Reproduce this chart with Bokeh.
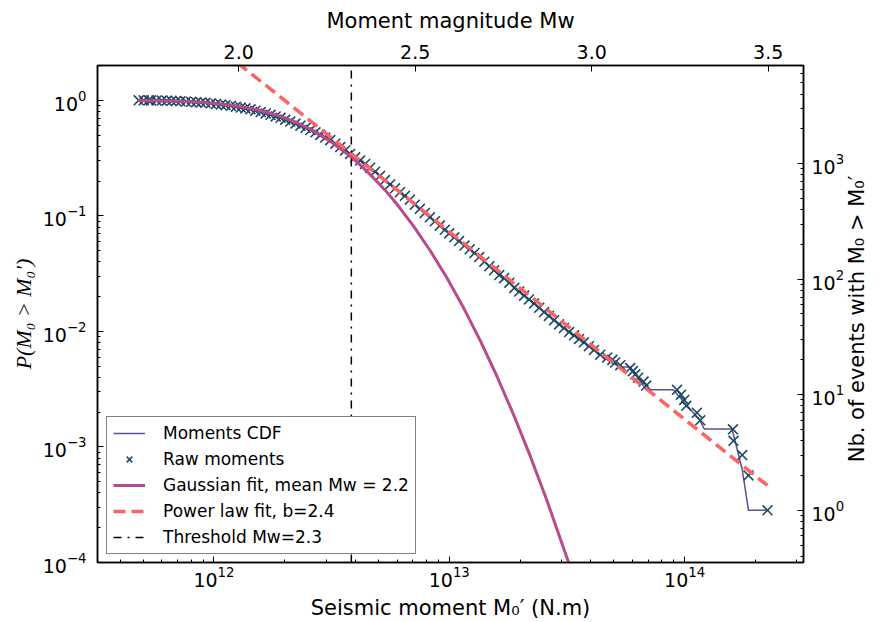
import math
from bokeh.plotting import figure
from bokeh.models import (Range1d, LinearScale, LogScale, LinearAxis, LogAxis, FixedTicker,
                          PrintfTickFormatter, Legend, LegendItem)
from bokeh.embed import file_html
from bokeh.resources import INLINE

# ---------------- data ----------------
n_events = 3530                      # P = 1/n_events for the single largest event

# dense part of the raw moments (seismic moment N.m, exceedance probability)
band_moment = [
    4.79e11, 5.03e11, 5.28e11, 5.4e11, 5.7e11, 6.0e11, 6.3e11, 6.6e11, 6.9e11, 7.2e11, 7.6e11, 8.0e11,
    8.4e11, 8.8e11, 9.2e11, 9.7e11,
    1.02e12, 1.07e12, 1.12e12, 1.18e12, 1.24e12, 1.30e12, 1.36e12, 1.43e12, 1.50e12, 1.58e12, 1.66e12,
    1.74e12, 1.83e12, 1.92e12,
    2.01e12, 2.11e12, 2.22e12, 2.33e12, 2.45e12, 2.57e12, 2.70e12, 2.83e12, 2.97e12, 3.12e12, 3.28e12,
    3.44e12, 3.61e12, 3.79e12, 3.98e12,
    4.18e12, 4.39e12, 4.61e12, 4.84e12, 5.08e12, 5.33e12, 5.60e12, 5.88e12, 6.17e12, 6.48e12, 6.80e12,
    7.14e12, 7.50e12, 7.87e12, 8.27e12, 8.68e12, 9.11e12, 9.57e12,
    1.00e13, 1.05e13, 1.10e13, 1.16e13, 1.22e13, 1.28e13, 1.34e13, 1.41e13, 1.48e13, 1.55e13, 1.63e13,
    1.71e13, 1.80e13, 1.89e13, 1.98e13,
    2.08e13, 2.18e13, 2.29e13, 2.41e13, 2.53e13, 2.65e13, 2.79e13, 2.93e13, 3.07e13, 3.23e13, 3.39e13,
    3.56e13, 3.73e13, 3.92e13, 4.12e13, 4.38e13]
band_prob = [
    1.0, 0.9997, 0.9994, 0.998, 0.997, 0.994, 0.992, 0.989, 0.984, 0.980, 0.974, 0.970,
    0.962, 0.955, 0.950, 0.941,
    0.929, 0.918, 0.907, 0.895, 0.879, 0.865, 0.851, 0.835, 0.813, 0.791, 0.769,
    0.748, 0.725, 0.705,
    0.680, 0.655, 0.629, 0.603, 0.578, 0.553, 0.528, 0.502, 0.476, 0.452, 0.421,
    0.394, 0.368, 0.343, 0.321,
    0.301, 0.281, 0.261, 0.241, 0.222, 0.204, 0.187, 0.173, 0.160, 0.149, 0.138,
    0.125, 0.115, 0.106, 0.0972, 0.0896, 0.0823, 0.0757,
    0.0705, 0.0652, 0.0605, 0.0553, 0.0513, 0.0477, 0.0440, 0.0401, 0.0367, 0.0338, 0.0307,
    0.0289, 0.0264, 0.0238, 0.0221,
    0.0204, 0.0189, 0.0174, 0.0160, 0.0147, 0.0136, 0.0125, 0.0115, 0.0107, 0.00986, 0.00924,
    0.00861, 0.00805, 0.00745, 0.00691, 0.00628]

# sparse tail of the raw moments (individual events)
tail_moment = [4.69e13, 4.93e13, 5.07e13, 5.33e13, 5.87e13, 6.03e13, 6.17e13, 6.35e13, 6.69e13, 6.87e13,
               9.28e13, 9.65e13, 9.96e13, 1.016e14, 1.128e14, 1.165e14, 1.604e14, 1.613e14, 1.757e14,
               1.868e14, 2.25e14]
tail_prob = [5.95e-3, 5.67e-3, 5.38e-3, 5.10e-3, 4.82e-3, 4.53e-3, 4.25e-3, 3.97e-3, 3.68e-3, 3.40e-3,
             3.12e-3, 2.83e-3, 2.55e-3, 2.27e-3, 1.98e-3, 1.70e-3, 1.42e-3, 1.13e-3, 8.50e-4,
             5.67e-4, 2.83e-4]

# CDF curve beyond the dense band
cdf_tail_moment = [4.88e13, 5.33e13, 5.87e13, 6.87e13, 8.94e13, 1.165e14, 1.211e14, 1.589e14, 1.673e14,
                   1.757e14, 1.868e14, 2.25e14]
cdf_tail_prob = [5.36e-3, 4.92e-3, 4.92e-3, 3.13e-3, 3.13e-3, 1.69e-3, 1.43e-3, 1.43e-3, 9.50e-4,
                 6.38e-4, 2.83e-4, 2.83e-4]

# Gaussian fit (mean Mw = 2.2)
gauss_moment = [4.77e11, 7.20e11, 9.195e11, 1.174e12, 1.373e12, 1.621e12, 1.915e12, 2.262e12, 2.645e12,
                3.123e12, 3.835e12, 4.269e12, 4.755e12, 5.348e12, 5.995e12, 7.05e12, 8.30e12, 9.78e12,
                1.150e13, 1.354e13, 1.594e13, 1.876e13, 2.209e13, 2.600e13, 3.213e13, 3.602e13]
gauss_prob = [0.997, 0.982, 0.958, 0.912, 0.867, 0.804, 0.726, 0.636, 0.543,
              0.441, 0.322, 0.265, 0.214, 0.166, 0.126, 0.0815, 0.0499, 0.0290,
              0.0160, 0.00831, 0.00409, 0.00190, 0.000832, 0.000344, 0.000100, 0.0000494]

# power-law fit, b = 2.4
power_moment = [4.8e11, 2.25e14]
power_prob = [10.1, 4.64e-4]

threshold_moment = 3.835e12          # threshold Mw = 2.3

moment_range = (3.2e11, 3.2e14)
prob_range = (1e-4, 2.0)
mw_ticks = [2.0, 2.5, 3.0, 3.5]
moment_major = [1e12, 1e13, 1e14]
prob_major = [1e-4, 1e-3, 1e-2, 1e-1, 1.0]
count_major = [1.0, 10.0, 100.0, 1000.0]

raw_moment = band_moment + tail_moment
raw_prob = band_prob + tail_prob
cdf_moment = band_moment + cdf_tail_moment
cdf_prob = band_prob + cdf_tail_prob


def mw_of(m0):
    return (math.log10(m0) - 9.105) / 1.5


def minors(lo_exp, hi_exp, lo, hi):
    out = []
    for e in range(lo_exp, hi_exp + 1):
        for k in range(2, 10):
            v = k * 10.0 ** e
            if lo <= v <= hi:
                out.append(v)
    return out


# ---------------- figure ----------------
p = figure(width=885, height=622, x_axis_type="log", y_axis_type="log",
           x_range=Range1d(*moment_range), y_range=Range1d(*prob_range),
           output_backend="svg", toolbar_location=None,
           min_border_left=97, min_border_right=82, min_border_top=65, min_border_bottom=59)
p.background_fill_color = "white"
p.border_fill_color = "white"
p.outline_line_color = "black"
p.outline_line_width = 1.5
p.xgrid.visible = False
p.ygrid.visible = False

events_range = (prob_range[0] * n_events, prob_range[1] * n_events)
p.extra_x_ranges = {"mw": Range1d(mw_of(moment_range[0]), mw_of(moment_range[1]))}
p.extra_x_scales = {"mw": LinearScale()}
p.extra_y_ranges = {"events": Range1d(*events_range)}
p.extra_y_scales = {"events": LogScale()}

top = LinearAxis(x_range_name="mw")
right = LogAxis(y_range_name="events")
p.add_layout(top, "above")
p.add_layout(right, "right")

bottom = p.below[0]
left = p.left[0]


def style_axis(ax):
    ax.major_tick_in = 6
    ax.major_tick_out = 0
    ax.minor_tick_in = 3
    ax.minor_tick_out = 0
    ax.major_tick_line_color = "black"
    ax.minor_tick_line_color = "black"
    ax.major_tick_line_width = 1
    ax.minor_tick_line_width = 1
    ax.axis_line_color = "black"
    ax.axis_line_width = 1.5
    ax.major_label_text_font = "DejaVu Sans"
    ax.major_label_text_font_size = "19px"
    ax.major_label_text_color = "black"
    ax.axis_label_text_font = "DejaVu Sans"
    ax.axis_label_text_font_size = "21px"
    ax.axis_label_text_font_style = "normal"
    ax.axis_label_text_color = "black"


for ax in (bottom, left, top, right):
    style_axis(ax)

bottom.ticker = FixedTicker(ticks=moment_major, minor_ticks=minors(11, 14, *moment_range))
bottom.axis_label = "Seismic moment M\u2080\u2032 (N.m)"
bottom.major_label_standoff = 3
bottom.axis_label_standoff = 6

left.ticker = FixedTicker(ticks=prob_major, minor_ticks=minors(-4, 0, *prob_range))
left.axis_label = "P(M\u2080 > M\u2080\u2032)"
left.axis_label_text_font = "Liberation Serif"
left.axis_label_text_font_style = "italic"
left.axis_label_text_font_size = "22px"
left.major_label_standoff = 11
left.axis_label_standoff = 4

top.ticker = FixedTicker(ticks=mw_ticks, minor_ticks=[])
top.formatter = PrintfTickFormatter(format="%.1f")
top.axis_label = "Moment magnitude Mw"
top.major_label_standoff = 7
top.axis_label_standoff = 9

right.ticker = FixedTicker(ticks=count_major, minor_ticks=minors(-1, 3, *events_range))
right.major_label_standoff = 8

# Right-hand title, reading bottom-to-top like the reference: drawn as the single (rotated)
# tick label of a label-only axis; a rotated label starts at its tick, so the tick sits
# where the text should begin.
label_text = "Nb. of events with M\u2080 > M\u2080\u2032"
label_start = 2.6                     # count level at which the rotated title begins
label_axis = LogAxis(y_range_name="events",
                     ticker=FixedTicker(ticks=[label_start], minor_ticks=[]),
                     major_label_overrides={label_start: label_text})
label_axis.axis_line_color = None
label_axis.major_tick_line_color = None
label_axis.minor_tick_line_color = None
label_axis.major_tick_in = 0
label_axis.major_tick_out = 0
label_axis.minor_tick_in = 0
label_axis.minor_tick_out = 0
label_axis.major_label_orientation = math.pi / 2
label_axis.major_label_text_font = "DejaVu Sans"
label_axis.major_label_text_font_size = "21px"
label_axis.major_label_text_color = "black"
label_axis.major_label_standoff = 10
p.add_layout(label_axis, "right")

# ---------------- glyphs ----------------
r_cdf = p.line(cdf_moment, cdf_prob, line_color="#5b4f9a", line_width=1.5)
r_raw = p.scatter(raw_moment, raw_prob, marker="x", size=14, line_color="#1d4a64", line_width=1.6)
r_gauss = p.line(gauss_moment, gauss_prob, line_color="#b94a8c", line_width=3)
r_power = p.line(power_moment, power_prob, line_color="#ff6262", line_width=3.5, line_dash="12 6")
r_thr = p.line(x=[threshold_moment, threshold_moment], y=list(prob_range),
               line_color="black", line_width=1.5, line_dash="8 6 2 6")

legend = Legend(items=[
    LegendItem(label="Moments CDF", renderers=[r_cdf]),
    LegendItem(label="Raw moments", renderers=[r_raw]),
    LegendItem(label="Gaussian fit, mean Mw = 2.2", renderers=[r_gauss]),
    LegendItem(label="Power law fit, b=2.4", renderers=[r_power]),
    LegendItem(label="Threshold Mw=2.3", renderers=[r_thr]),
], location=(9, 8), margin=0, padding=6, spacing=6,
    glyph_width=32, glyph_height=20, label_height=20, label_standoff=18,
    label_text_font="DejaVu Sans", label_text_font_size="17px", label_text_color="black",
    border_line_color="black", border_line_width=1.3,
    background_fill_color="white", background_fill_alpha=1.0)
p.add_layout(legend)

open("out.html", "w").write(file_html(p, INLINE))
